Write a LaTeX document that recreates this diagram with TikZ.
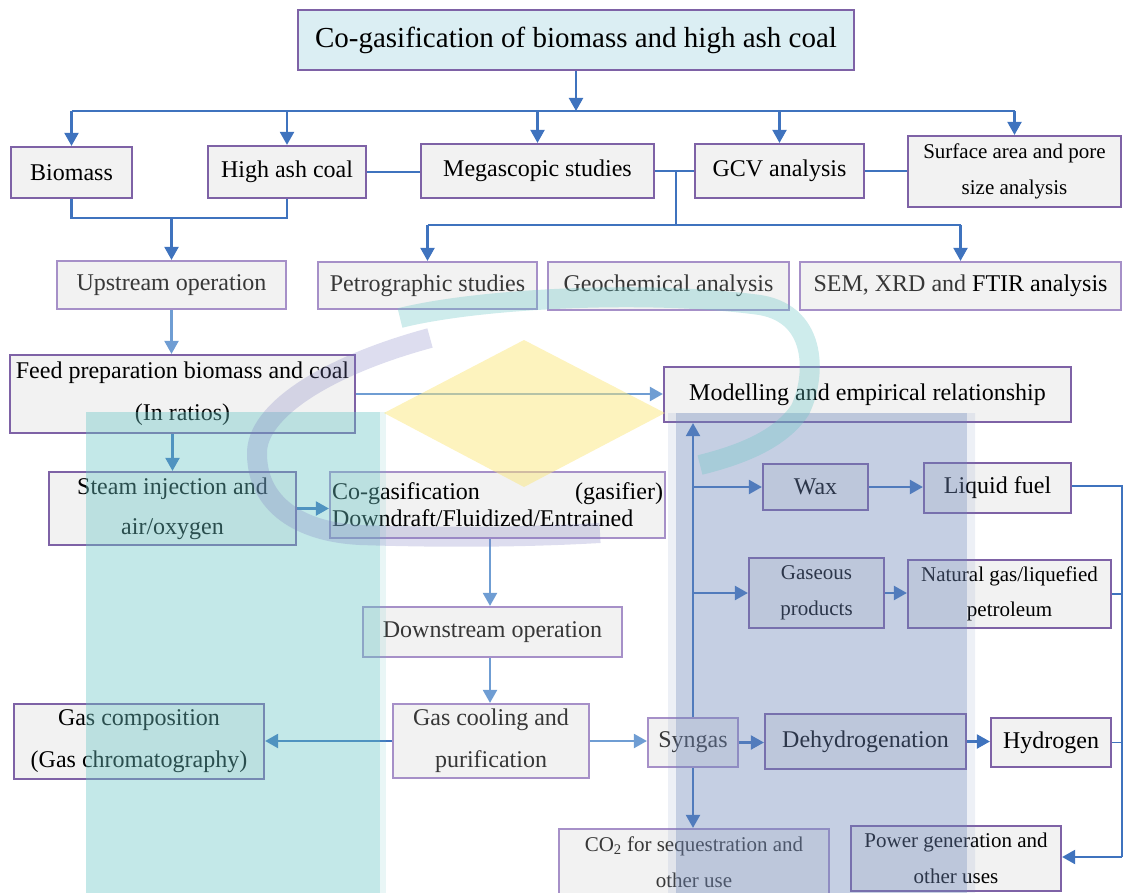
\documentclass[tikz,border=0pt]{standalone}
\usepackage{fontspec}
\setmainfont{Liberation Serif}
\usetikzlibrary{arrows.meta,calc}
\definecolor{lnd}{RGB}{63,115,190}
\definecolor{lnl}{RGB}{111,157,211}
\definecolor{pdark}{RGB}{126,98,166}
\definecolor{plight}{RGB}{166,144,200}
\definecolor{boxfill}{RGB}{242,242,242}
\definecolor{titlefill}{RGB}{219,238,243}
\definecolor{tgray}{RGB}{55,55,55}
\definecolor{wmteal}{RGB}{105,197,197}
\definecolor{wmblue}{RGB}{110,135,185}
\definecolor{wmyellow}{RGB}{251,231,125}
\definecolor{wmpurple}{RGB}{120,120,190}
\begin{document}
\begin{tikzpicture}[x=1pt,y=-1pt,
  box/.style={draw=pdark, line width=2.2pt, fill=boxfill, inner sep=0pt, align=center, text=black, font=\fontsize{24}{42}\selectfont},
  boxl/.style={box, draw=plight, text=tgray},
  small/.style={font=\fontsize{21}{35.5}\selectfont},
  arr/.style={draw=lnd, line width=2.2pt, -{Triangle[length=13pt,width=14pt]}},
  arrl/.style={arr, draw=lnl},
  ln/.style={draw=lnd, line width=2.2pt},
  lnt/.style={draw=lnd, line width=1.5pt}]
\useasboundingbox (0,0) rectangle (1124,893);
\clip (0,0) rectangle (1124,893);

% boxes
\node[box, minimum width=556pt, minimum height=60pt, fill=titlefill, font=\fontsize{29}{34}\selectfont] (title) at (576,40) {Co-gasification of biomass and high ash coal};
\node[box, minimum width=121pt, minimum height=51pt] (biomass) at (71.5,172.5) {Biomass};
\node[box, minimum width=158pt, minimum height=52pt] (coal) at (287,172) {High ash coal};
\node[box, minimum width=233pt, minimum height=54pt] (mega) at (537.5,171) {Megascopic studies};
\node[box, minimum width=169pt, minimum height=54pt] (gcv) at (779.5,171) {GCV analysis};
\node[box, small, minimum width=213pt, minimum height=71pt] (surface) at (1014.5,171.5) {Surface area and pore\\size analysis};
\node[boxl, minimum width=229pt, minimum height=48pt] (up) at (171.5,285) {Upstream operation};
\node[boxl, minimum width=219pt, minimum height=47pt] (petro) at (427.5,285.5) {Petrographic studies};
\node[boxl, minimum width=241pt, minimum height=48pt] (geo) at (668.5,286) {Geochemical analysis};
\node[boxl, minimum width=321pt, minimum height=48pt] (sem) at (960.5,286) {SEM, XRD and {\color{black}FTIR analysis}};
\node[box, minimum width=345pt, minimum height=78pt] (feed) at (182.5,394) {Feed preparation biomass and coal\\(In ratios)};
\node[box, minimum width=407pt, minimum height=55pt] (model) at (867.5,394.5) {Modelling and empirical relationship};
\node[box, font=\fontsize{24}{40}\selectfont, minimum width=247pt, minimum height=73pt] (steam) at (172.5,508.5) {Steam injection and\\air/oxygen};
\node[boxl, text=black, align=left, text width=331pt, font=\fontsize{24}{27}\selectfont, minimum width=335pt, minimum height=66pt] (cogas) at (497.5,505) {Co-gasification\hfill(gasifier)\\Downdraft/Fluidized/Entrained};
\node[boxl, minimum width=259pt, minimum height=50pt] (down) at (492.5,632) {Downstream operation};
\node[boxl, minimum width=196pt, minimum height=74pt] (cool) at (491,741) {Gas cooling and\\purification};
\node[box, minimum width=250pt, minimum height=75pt] (comp) at (139,741.5) {Gas composition\\(Gas chromatography)};
\node[boxl, minimum width=90pt, minimum height=49pt] (syngas) at (693,742.5) {Syngas};
\node[box, minimum width=201pt, minimum height=55pt] (dehyd) at (865.5,741.5) {Dehydrogenation};
\node[box, minimum width=120pt, minimum height=49pt] (hydrogen) at (1051,742.5) {Hydrogen};
\node[boxl, small, minimum width=270pt, minimum height=66pt] (co2) at (694,862) {CO\textsubscript{2} for sequestration and\\other use};
\node[box, small, minimum width=210pt, minimum height=65pt] (power) at (956,858.5) {Power generation and\\other uses};
\node[box, minimum width=105pt, minimum height=46pt] (wax) at (815.5,487) {Wax};
\node[box, minimum width=147pt, minimum height=50pt] (liquid) at (997.5,488) {Liquid fuel};
\node[box, small, minimum width=135pt, minimum height=70pt] (gaseous) at (816.5,593) {Gaseous\\products};
\node[box, small, minimum width=203pt, minimum height=68pt] (natural) at (1009.5,594) {Natural gas/liquefied\\petroleum};

% top bus
\coordinate (busL) at (71.5,111);
\coordinate (busR) at (1014.5,111);
\draw[ln] (busL) -- (busR);
\draw[arr] (title.south) -- (title.south |- busL);
\draw[arr] (busL) -- (biomass.north);
\draw[arr] (coal.north |- busL) -- (coal.north);
\draw[arr] (mega.north |- busL) -- (mega.north);
\draw[arr] (gcv.north |- busL) -- (gcv.north);
\draw[arr] (busR) -- (surface.north);

% links between top row
\draw[lnt] (coal.east) -- (coal.east -| mega.west);
\draw[lnt] (mega.east) -- (gcv.west);
\draw[lnt] (gcv.east) -- (gcv.east -| surface.west);
\coordinate (br1) at (676,171);
\coordinate (br2) at (676,225);
\draw[lnt] (br1) -- (br2);
\draw[ln] (petro.north |- br2) -- (sem.north |- br2);
\draw[arr] (petro.north |- br2) -- (petro.north);
\draw[arr] (sem.north |- br2) -- (sem.north);

% merge biomass + coal
\coordinate (mg) at (171.5,218);
\draw[ln] (biomass.south) -- (biomass.south |- mg) -- (coal.south |- mg) -- (coal.south);
\draw[arr] (mg) -- (up.north);

% process chain
\draw[arrl] (up.south) -- (up.south |- feed.north);
\draw[arrl] (feed.east) -- (feed.east -| model.west);
\draw[arr] (steam.north |- feed.south) -- (steam.north);
\draw[arr] (steam.east) -- (steam.east -| cogas.west);
\draw[arrl] ($(cogas.south -| down.north)+(-2.5,0)$) -- ($(down.north)+(-2.5,0)$);
\draw[arrl] ($(down.south)+(-2.5,0)$) -- ($(cool.north)+(-1,0)$);
\draw[arr] (cool.west) -- (cool.west -| comp.east);
\draw[arrl] (cool.east) -- (cool.east -| syngas.west);
\draw[arr] (syngas.east) -- (syngas.east -| dehyd.west);
\draw[arr] (dehyd.east) -- (dehyd.east -| hydrogen.west);
\draw[arr] (syngas.south) -- (syngas.south |- co2.north);
\draw[arr] (syngas.north) -- (syngas.north |- model.south);
\draw[arr] (syngas.north |- wax.west) -- (wax.west);
\draw[arr] (syngas.north |- gaseous.west) -- (gaseous.west);
\draw[arr] (wax.east) -- (wax.east -| liquid.west);
\draw[arr] (gaseous.east) -- (gaseous.east -| natural.west);

% right bus
\coordinate (rbT) at (1122,486);
\coordinate (rbB) at (1122,857);
\draw[lnt] (liquid.east |- rbT) -- (rbT) -- (rbB);
\draw[lnt] (natural.east) -- (natural.east -| rbT);
\draw[lnt] (hydrogen.east) -- (hydrogen.east -| rbT);
\draw[arr] (rbB) -- (rbB -| power.east);

% watermark logo
\fill[wmteal, fill opacity=0.4] (86,412) rectangle (380,900);
\fill[wmteal, fill opacity=0.15] (380,412) rectangle (386,900);
\fill[wmblue, fill opacity=0.4] (676,413) rectangle (967,900);
\fill[wmblue, fill opacity=0.12] (668,413) rectangle (676,900) (967,413) rectangle (975,900);
\fill[wmyellow, fill opacity=0.5] (384,413) -- (524,340) -- (665,413) -- (524,487) -- cycle;
\draw[wmpurple, draw opacity=0.25, line width=20pt] (430,338) .. controls (330,365) and (255,410) .. (257,455) .. controls (258,505) and (300,532) .. (360,535) .. controls (450,538) and (530,537) .. (600,533);
\draw[wmteal, draw opacity=0.33, line width=20pt] (400,318) .. controls (480,298) and (650,290) .. (760,305) .. controls (820,315) and (815,380) .. (800,410) .. controls (780,440) and (740,455) .. (700,465);
\end{tikzpicture}
\end{document}
